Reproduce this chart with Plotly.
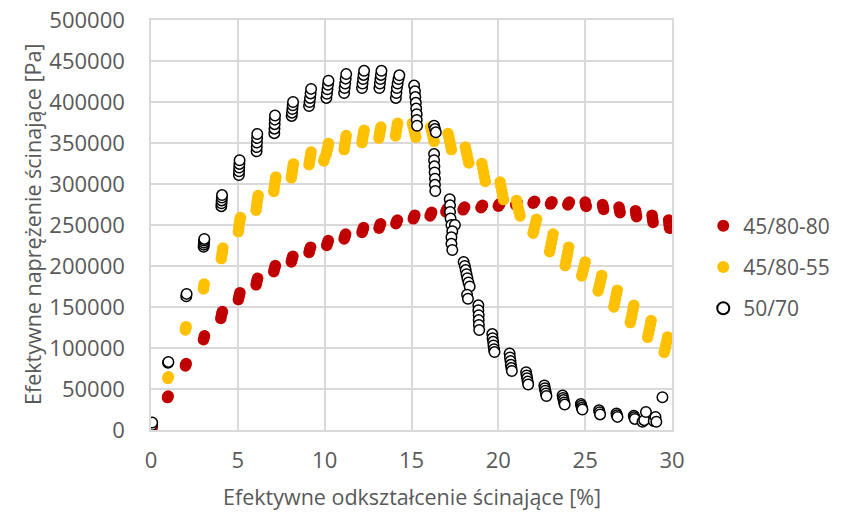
import plotly.graph_objects as go

# 45/80-80 (red)
red_x = [0.05, 0.05, 0.08,
         0.95, 0.97, 0.99,
         1.98, 2.0, 2.03,
         3.02, 3.05, 3.08,
         4.02, 4.05, 4.08, 4.11,
         5.03, 5.06, 5.09, 5.12,
         6.05, 6.08, 6.11, 6.14,
         7.07, 7.1, 7.13, 7.16,
         8.08, 8.11, 8.14, 8.17,
         9.1, 9.13, 9.16, 9.19,
         10.12, 10.15, 10.18, 10.21,
         11.12, 11.15, 11.18, 11.21,
         12.15, 12.18, 12.21, 12.24,
         13.13, 13.16, 13.19, 13.22,
         14.1, 14.13, 14.16, 14.19,
         15.1, 15.13, 15.16, 15.19,
         16.07, 16.1, 16.13, 16.16,
         16.98, 17.01, 17.04, 17.07,
         17.97, 18.0, 18.03, 18.06,
         19.0, 19.03, 19.06, 19.09,
         20.0, 20.03, 20.06, 20.09,
         21.0, 21.03, 21.06, 21.09,
         22.0, 22.03, 22.06, 22.09,
         23.0, 23.03, 23.06, 23.09,
         24.0, 24.03, 24.06, 24.09,
         25.0, 25.02, 25.04, 25.06,
         26.0, 26.02, 26.04, 26.06,
         26.95, 26.97, 26.99, 27.01,
         27.9, 27.92, 27.94, 27.96,
         28.85, 28.87, 28.89, 28.91,
         29.8, 29.82, 29.84, 29.86]
red_y = [2000, 3500, 4500,
         39500, 40500, 41500,
         78000, 79500, 81000,
         110000, 112500, 115000,
         136000, 139000, 142000, 144500,
         159000, 162000, 165000, 167500,
         177000, 180000, 182500, 185000,
         193000, 196000, 198500, 200500,
         205000, 207500, 210000, 212000,
         216500, 219000, 221000, 223000,
         225000, 227000, 229000, 231000,
         233000, 235000, 237000, 239000,
         241000, 243000, 245000, 247000,
         246000, 248000, 250000, 251500,
         251500, 253000, 254500, 256000,
         257500, 259000, 260500, 262000,
         261000, 262500, 264000, 265500,
         266000, 267500, 269000, 270000,
         268500, 270000, 271000, 272000,
         271000, 272000, 273000, 274000,
         273000, 274000, 275000, 276000,
         274500, 275500, 276500, 277500,
         276500, 277500, 278500, 279000,
         275500, 276500, 277500, 278500,
         274500, 275500, 277000, 278000,
         278000, 276000, 274000, 272500,
         275000, 273000, 271000, 269000,
         272000, 269500, 267000, 265000,
         267500, 265000, 262000, 260000,
         262000, 259000, 256000, 253000,
         256000, 252500, 249000, 246000]

# 45/80-55 (yellow)
yel_x = [0.05, 0.06,
         0.97, 1.0,
         1.98, 2.0, 2.02,
         3.02, 3.04, 3.06,
         4.05, 4.08, 4.11, 4.14,
         5.03, 5.06, 5.09, 5.12, 5.15,
         6.05, 6.08, 6.11, 6.14, 6.17,
         7.07, 7.1, 7.13, 7.16, 7.19,
         8.08, 8.11, 8.14, 8.17, 8.2,
         9.1, 9.13, 9.16, 9.19, 9.22,
         9.95, 10.0, 10.1, 10.15, 10.2, 10.22,
         11.12, 11.15, 11.18, 11.21, 11.24,
         12.15, 12.18, 12.21, 12.24, 12.27,
         13.12, 13.15, 13.18, 13.21, 13.24,
         14.08, 14.11, 14.14, 14.17, 14.2,
         15.05, 15.1, 15.15, 15.2, 15.25,
         16.1, 16.15, 16.2, 16.25, 16.3,
         17.1, 17.15, 17.2, 17.25, 17.3,
         18.1, 18.15, 18.2, 18.25, 18.3,
         19.05, 19.1, 19.15, 19.2, 19.25,
         20.1, 20.15, 20.2, 20.25, 20.3,
         21.05, 21.1, 21.15, 21.2, 21.25,
         22.2, 22.15, 22.1, 22.05, 22.0,
         23.15, 23.1, 23.05, 23.0, 22.95,
         24.05, 24.0, 23.95, 23.9, 23.85,
         25.0, 24.95, 24.9, 24.85, 24.8,
         25.95, 25.9, 25.85, 25.8, 25.75,
         26.85, 26.8, 26.75, 26.7, 26.65,
         27.8, 27.75, 27.7, 27.65, 27.6,
         28.8, 28.75, 28.7, 28.65, 28.6,
         29.75, 29.7, 29.65, 29.6, 29.55]
yel_y = [7000, 9000,
         63000, 65000,
         122000, 124000, 126000,
         172000, 175000, 178000,
         209000, 213000, 217500, 222000,
         242000, 247000, 252000, 256000, 259000,
         268000, 273000, 278000, 282000, 286000,
         291000, 296000, 300500, 304500, 308500,
         307500, 312000, 316500, 320500, 324500,
         323500, 327500, 331500, 335500, 339000,
         328000, 332000, 337000, 342000, 346000, 349500,
         342000, 346500, 350500, 355000, 359000,
         350500, 354500, 358500, 362000, 365500,
         356000, 359500, 363000, 366500, 369500,
         358500, 362500, 366500, 370500, 374000,
         374000, 370000, 366000, 361500, 357000,
         369500, 365500, 361000, 356500, 352000,
         361500, 357000, 352000, 347000, 342000,
         345000, 340000, 335500, 330500, 325600,
         325000, 319500, 314000, 308500, 303000,
         302500, 297000, 291500, 286000, 281000,
         280000, 275000, 270500, 265500, 261000,
         257000, 252500, 248500, 244000, 240000,
         239000, 233500, 228000, 222500, 217500,
         223000, 217000, 211500, 206000, 200500,
         205000, 200500, 196500, 192000, 188000,
         188500, 183500, 179000, 174000, 169500,
         170500, 165500, 160500, 155000, 150000,
         152000, 146500, 141500, 136000, 131000,
         133500, 128500, 123000, 118000, 113000,
         113500, 108500, 104000, 99000, 94500]

# 50/70 (black open circles)
blk_x = [0.05, 0.07,
         0.98, 1.0,
         2.03, 2.05,
         3.03, 3.04, 3.05, 3.06, 3.07,
         4.05, 4.06, 4.07, 4.08, 4.09,
         5.06, 5.07, 5.08, 5.09, 5.1,
         6.08, 6.09, 6.1, 6.11, 6.12,
         7.1, 7.11, 7.12, 7.13, 7.14,
         8.1, 8.12, 8.14, 8.16, 8.18,
         9.1, 9.13, 9.16, 9.19, 9.22,
         10.1, 10.13, 10.16, 10.19, 10.22,
         11.12, 11.15, 11.18, 11.21, 11.24,
         12.15, 12.18, 12.21, 12.24, 12.27,
         13.15, 13.18, 13.21, 13.24, 13.27,
         14.1, 14.13, 14.16, 14.2, 14.25, 14.3,
         15.15, 15.2, 15.22, 15.25, 15.27, 15.3, 15.3, 15.32,
         16.3, 16.35, 16.4,
         16.3, 16.3, 16.32, 16.33, 16.35, 16.35, 16.37,
         17.2, 17.22, 17.22, 17.25, 17.3, 17.5, 17.35, 17.3, 17.3, 17.35,
         18.0, 18.07, 18.12, 18.17, 18.22, 18.28, 18.35, 18.2, 18.25,
         18.85, 18.85, 18.87, 18.87, 18.88, 18.9,
         19.65, 19.67, 19.7, 19.72, 19.75, 19.78,
         20.65, 20.67, 20.7, 20.72, 20.75, 20.78,
         21.6, 21.63, 21.66, 21.69, 21.72,
         22.65, 22.68, 22.71, 22.74, 22.77,
         23.7, 23.73, 23.76, 23.79, 23.82,
         24.75, 24.78, 24.81, 24.84,
         25.8, 25.83, 25.86,
         26.8, 26.83, 26.86,
         27.8, 27.83, 27.86,
         28.3, 28.4, 28.5, 28.95, 29.05, 29.1, 29.45]
blk_y = [6000, 9000,
         82000, 83000,
         163000, 166000,
         223500, 226000, 228500, 231000, 233000,
         273000, 276500, 280000, 283500, 286500,
         311000, 315500, 320000, 324500, 329000,
         340000, 345000, 350500, 356000, 361000,
         362000, 367500, 373000, 378500, 383500,
         383000, 387000, 391500, 396000, 400000,
         395000, 400000, 405000, 410500, 416000,
         405000, 410000, 415500, 421000, 426000,
         411000, 417000, 422500, 428500, 434000,
         417000, 422500, 428000, 433000, 438000,
         417000, 422500, 428000, 433000, 438000,
         405000, 411000, 417000, 422500, 428000, 432500,
         420000, 413000, 406000, 399000, 392000, 385000, 378000, 371000,
         371000, 367000, 363000,
         336500, 329000, 321500, 314000, 306500, 299000, 291500,
         281500, 274000, 266000, 258000, 250000, 250000, 242500, 235000, 227000, 219500,
         205000, 200000, 195000, 190000, 185000, 180000, 175000, 165000, 160000,
         152000, 146000, 140000, 134000, 128000, 122000,
         117000, 112000, 107500, 103000, 98500, 95000,
         93300, 88500, 84000, 79500, 75500, 72000,
         70500, 66500, 63000, 59000, 55500,
         54300, 51000, 48000, 44500, 41500,
         42000, 39000, 36500, 33500, 31000,
         31700, 29500, 27000, 25000,
         24000, 21500, 19000,
         20000, 18000, 16000,
         17500, 15500, 13500,
         10000, 12000, 22000, 11000, 16000, 10000, 40000]

x_ticks = [0, 5, 10, 15, 20, 25, 30]
y_ticks = [0, 50000, 100000, 150000, 200000, 250000, 300000, 350000, 400000, 450000, 500000]
y_ticktext = [str(v) for v in y_ticks]
x_ticktext = [str(v) for v in x_ticks]
x_title = "Efektywne odkształcenie ścinające [%]"
y_title = "Efektywne naprężenie ścinające [Pa]"

FONT = "Open Sans"
GREY = "#595959"
GRID = "#d9d9d9"

fig = go.Figure()
fig.add_trace(go.Scatter(x=red_x, y=red_y, mode="markers", name="45/80-80", legendgroup="a",
                         marker=dict(color="#C00000", size=11.5, line=dict(width=0))))
fig.add_trace(go.Scatter(x=yel_x, y=yel_y, mode="markers", name="45/80-55", legendgroup="b",
                         marker=dict(color="#FFC000", size=11.5, line=dict(width=0))))
fig.add_trace(go.Scatter(x=blk_x, y=blk_y, mode="markers", name="50/70", legendgroup="c",
                         marker=dict(color="white", size=10.5, line=dict(color="black", width=1.5))))

fig.update_layout(
    width=847, height=512,
    margin=dict(l=151, r=175, t=20, b=82),
    paper_bgcolor="white", plot_bgcolor="white",
    font=dict(family=FONT, color=GREY, size=21),
    legend=dict(x=1.06, xanchor="left", y=0.3976, yanchor="middle",
                font=dict(family=FONT, size=21, color=GREY),
                tracegroupgap=11, itemsizing="constant"),
    xaxis=dict(range=[0, 30], tickvals=x_ticks, ticktext=x_ticktext, showgrid=True, gridcolor=GRID, gridwidth=1.5,
               showline=True, linecolor=GRID, linewidth=1.5, mirror=True, zeroline=False,
               ticks="outside", ticklen=10, tickcolor="rgba(0,0,0,0)", automargin=False,
               tickfont=dict(size=22, color=GREY)),
    yaxis=dict(range=[0, 500000], tickvals=y_ticks, ticktext=y_ticktext, showgrid=True, gridcolor=GRID, gridwidth=1.5,
               showline=True, linecolor=GRID, linewidth=1.5, mirror=True, zeroline=False,
               ticks="outside", ticklen=20, tickcolor="rgba(0,0,0,0)", automargin=False,
               tickfont=dict(size=22, color=GREY)),
    annotations=[
        dict(text=x_title, xref="paper", yref="paper", x=0.5, y=-0.1634, xanchor="center", yanchor="middle",
             showarrow=False, font=dict(size=21.5, color=GREY, family=FONT)),
        dict(text=y_title, xref="paper", yref="paper", x=-0.2284, y=0.5, xanchor="center", yanchor="middle",
             textangle=-90, showarrow=False, font=dict(size=21.5, color=GREY, family=FONT)),
    ],
)

fig.write_html("out.html")
